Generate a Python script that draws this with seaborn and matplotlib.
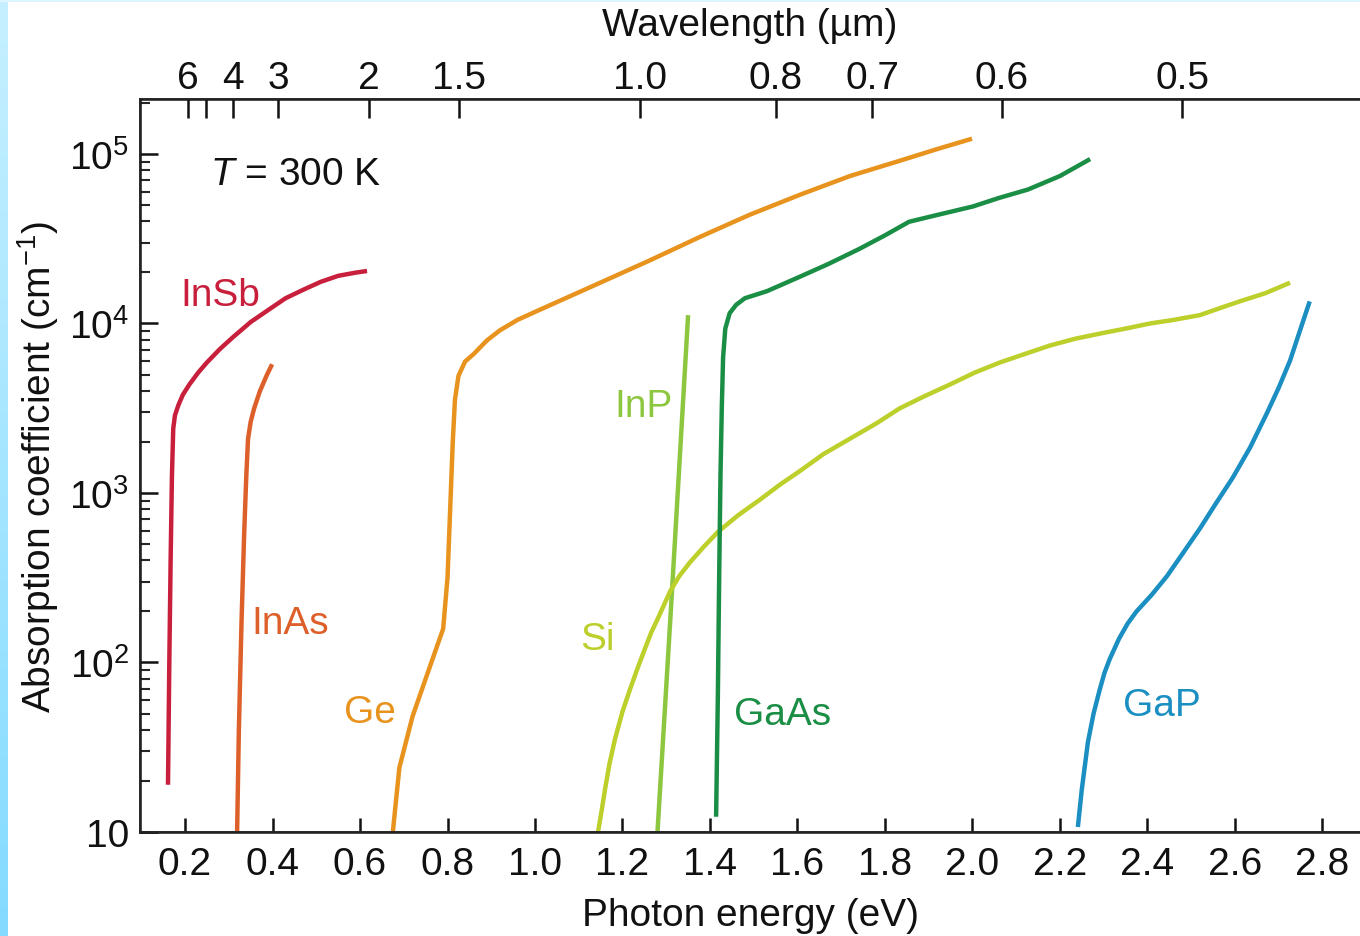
import numpy as np
import pandas as pd
import matplotlib
matplotlib.use('Agg')
import matplotlib.pyplot as plt
from matplotlib.ticker import FixedLocator, LogLocator, NullFormatter
from matplotlib.colors import LinearSegmentedColormap
from matplotlib.patches import Rectangle
import seaborn as sns

# photon energy (eV) and absorption coefficient (cm^-1)
insb_E = [0.161, 0.164, 0.167, 0.170, 0.173, 0.177, 0.185, 0.195, 0.21, 0.23, 0.25, 0.28,
          0.31, 0.35, 0.39, 0.43, 0.47, 0.51, 0.55, 0.59, 0.616]
insb_a = [19, 100, 398, 1260, 2400, 2880, 3310, 3800, 4370, 5130, 5890, 7080,
          8320, 10200, 12000, 14100, 15800, 17600, 19100, 19950, 20400]

inas_E = [0.319, 0.323, 0.329, 0.335, 0.340, 0.344, 0.350, 0.358, 0.371, 0.386, 0.399]
inas_a = [10, 40, 170, 562, 1260, 2090, 2630, 3160, 3980, 4900, 5750]

ge_E = [0.675, 0.683, 0.69, 0.72, 0.76, 0.79, 0.80, 0.806, 0.812, 0.817, 0.825, 0.84,
        0.86, 0.89, 0.92, 0.96, 1.0, 1.07, 1.149, 1.26, 1.377, 1.49, 1.606, 1.72,
        1.834, 1.92, 1.999]
ge_a = [10, 16, 24, 48, 95, 158, 316, 794, 2000, 3550, 4900, 5960,
        6610, 7940, 9120, 10500, 11700, 14100, 17400, 23400, 32400, 43700, 57500, 74100,
        91200, 107000, 123000]

inp_E = [1.28, 1.312, 1.35]
inp_a = [10, 234, 11200]

si_E = [1.144, 1.152, 1.160, 1.17, 1.183, 1.20, 1.217, 1.235, 1.251, 1.266, 1.281, 1.295,
        1.309, 1.33, 1.354, 1.385, 1.418, 1.465, 1.514, 1.56, 1.606, 1.66, 1.72, 1.78,
        1.834, 1.89, 1.949, 2.005, 2.063, 2.12, 2.177, 2.235, 2.291, 2.35, 2.406, 2.46,
        2.52, 2.565, 2.611, 2.67, 2.726]
si_a = [10, 13.2, 17.8, 25.1, 35.5, 51.3, 69.2, 93.3, 120, 151, 182, 219,
        263, 324, 389, 479, 589, 741, 912, 1120, 1350, 1700, 2090, 2570,
        3160, 3720, 4370, 5130, 5890, 6610, 7410, 8130, 8710, 9330, 10000, 10500,
        11200, 12300, 13500, 15100, 17400]

gaas_E = [1.414, 1.418, 1.421, 1.424, 1.427, 1.430, 1.435, 1.445, 1.46, 1.48, 1.53, 1.60,
          1.67, 1.741, 1.80, 1.855, 1.92, 2.001, 2.06, 2.127, 2.20, 2.269]
gaas_a = [12.3, 63, 316, 1260, 3160, 6310, 9330, 11500, 12900, 14100, 15500, 18600,
          22400, 27500, 33100, 39800, 43700, 49000, 54950, 61700, 74100, 93300]

gap_E = [2.241, 2.25, 2.264, 2.277, 2.291, 2.302, 2.314, 2.335, 2.355, 2.375, 2.41, 2.445,
         2.48, 2.52, 2.557, 2.595, 2.635, 2.673, 2.70, 2.726, 2.749, 2.771]
gap_a = [10.7, 17.8, 33.9, 50.1, 69.2, 87.1, 105, 138, 170, 200, 251, 324,
         437, 617, 871, 1230, 1860, 2950, 4170, 6030, 9120, 13500]

materials = ['InSb', 'InAs', 'Ge', 'InP', 'Si', 'GaAs', 'GaP']
colors = ['#c8203c', '#dd5f2a', '#e8931e', '#8dc63f', '#bccf2a', '#1b8e45', '#1b8ec2']

# label anchor points (eV, cm^-1)
label_E = [0.28, 0.44, 0.623, 1.247, 1.142, 1.565, 2.433]
label_a = [14800, 170, 51, 3240, 138, 50, 56]

# top axis: wavelength ticks (um)
wl_ticks = [6, 5, 4, 3, 2, 1.5, 1.0, 0.8, 0.7, 0.6, 0.5]
wl_labels = ['6', '', '4', '3', '2', '1.5', '1.0', '0.8', '0.7', '0.6', '0.5']

e_ticks = [0.2, 0.4, 0.6, 0.8, 1.0, 1.2, 1.4, 1.6, 1.8, 2.0, 2.2, 2.4, 2.6, 2.8]

all_E = [insb_E, inas_E, ge_E, inp_E, si_E, gaas_E, gap_E]
all_a = [insb_a, inas_a, ge_a, inp_a, si_a, gaas_a, gap_a]
df = pd.concat([pd.DataFrame({'E': e, 'alpha': a, 'material': m})
                for e, a, m in zip(all_E, all_a, materials)], ignore_index=True)

sns.set_theme(style='white')
plt.rcParams['font.family'] = ['Liberation Sans', 'DejaVu Sans']
plt.rcParams['mathtext.fontset'] = 'custom'
plt.rcParams['mathtext.rm'] = 'Liberation Sans'
plt.rcParams['mathtext.it'] = 'Liberation Sans:italic'
fs = 28

fig = plt.figure(figsize=(13.6, 9.37), dpi=100)
W, H = 1360, 937
ax = fig.add_axes([140 / W, 1 - 833 / H, 1220 / W, (833 - 100) / H])

sns.lineplot(data=df, x='E', y='alpha', hue='material', hue_order=materials,
             palette=dict(zip(materials, colors)), sort=False, estimator=None,
             lw=3.2, legend=False, ax=ax, solid_joinstyle='round', solid_capstyle='butt')

ax.set_yscale('log')
ax.set_xlim(0.097, 2.886)
ax.set_ylim(10, 2.11e5)

ax.set_xticks(e_ticks)
ax.set_xticklabels([f'{v:.1f}' for v in e_ticks])
ax.set_yticks([10, 1e2, 1e3, 1e4, 1e5])
ax.set_yticklabels(['10', r'$\mathregular{10^2}$', r'$\mathregular{10^3}$',
                    r'$\mathregular{10^4}$', r'$\mathregular{10^5}$'])
ax.yaxis.set_minor_locator(LogLocator(base=10, subs=np.arange(2, 10)))
ax.yaxis.set_minor_formatter(NullFormatter())

ax.tick_params(axis='x', which='major', direction='in', length=10, width=1.8,
               labelsize=fs, pad=10, colors='#111111', bottom=True)
ax.tick_params(axis='y', which='major', direction='in', length=13, width=1.8,
               labelsize=fs, pad=8, colors='#111111', left=True)
ax.tick_params(axis='y', which='minor', direction='in', length=7, width=1.5, left=True)

for side in ['left', 'bottom', 'top']:
    ax.spines[side].set_linewidth(1.8)
    ax.spines[side].set_color('#111111')
ax.spines['right'].set_visible(False)

ax.set_xlabel('Photon energy (eV)', fontsize=fs, labelpad=11, color='#111111')
ax.set_ylabel(r'Absorption coefficient (cm$^{\mathregular{-1}}$)', fontsize=fs,
              labelpad=6, color='#111111')

ax2 = ax.twiny()
ax2.set_xlim(ax.get_xlim())
ax2.xaxis.set_major_locator(FixedLocator([1.24 / w for w in wl_ticks]))
ax2.set_xticklabels(wl_labels)
ax2.tick_params(axis='x', which='major', direction='in', length=14, width=1.8,
                labelsize=fs, pad=2, colors='#111111', top=True)
ax2.spines['right'].set_visible(False)
ax2.set_xlabel('Wavelength (\u00b5m)', fontsize=fs, labelpad=18, color='#111111')

for m, c, xe, ya in zip(materials, colors, label_E, label_a):
    ax.text(xe, ya, m, color=c, fontsize=fs, ha='center', va='center')

ax.text(0.257, 10 ** 4.88, r'$T$ = 300 K', fontsize=fs, ha='left', va='center',
        color='#111111')

# light blue frame strips from the source image
strip = fig.add_axes([0, 0, 8 / W, 1])
cmap = LinearSegmentedColormap.from_list('edge', ['#c6f0ff', '#84dbff'])
strip.imshow(np.linspace(0, 1, 256).reshape(-1, 1), cmap=cmap, aspect='auto')
strip.axis('off')
fig.add_artist(Rectangle((0, 1 - 3 / H), 1, 3 / H, transform=fig.transFigure,
                         color='#dcf5ff', lw=0))

fig.savefig('out.png', dpi=100)
